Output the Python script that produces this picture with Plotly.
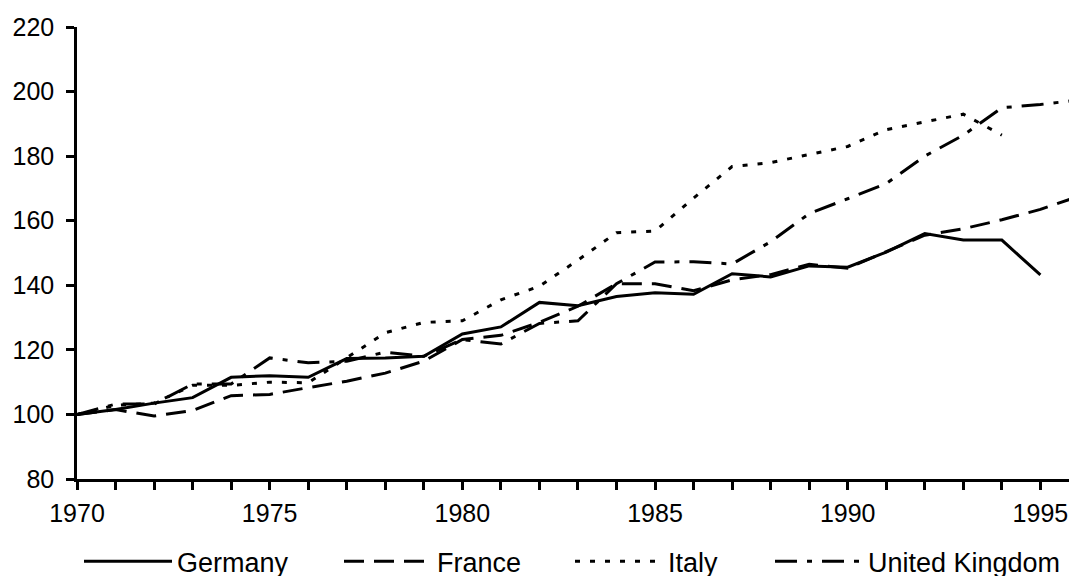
import plotly.graph_objects as go

years = list(range(1970, 1997))

germany = [100, 101.5, 103.5, 105.2, 111.5, 112, 111.5, 117.3, 117.5, 118,
           124.9, 127.1, 134.7, 133.7, 136.5, 137.7, 137.2, 143.6, 142.6, 146,
           145.6, 150.3, 156, 154, 154, 143.2]
france = [100, 101.5, 99.5, 101.2, 105.8, 106.2, 108.3, 110.3, 112.8, 116.5,
          123.2, 124.5, 128.5, 133.5, 140.5, 140.5, 138.3, 141.7, 143.3, 146.5,
          145.3, 150.3, 155.5, 157.5, 160.3, 163.5, 167.6]
italy = [100, 102.8, 103.5, 109, 109, 110, 109.8, 117.5, 125.3, 128.5,
         129, 135.5, 139.7, 147.8, 156.3, 156.8, 167, 176.8, 178, 180.5,
         183, 188.2, 190.5, 193, 186.5]
uk = [100, 103.2, 103.2, 109.4, 109.4, 117.5, 116, 116.5, 119.3, 118,
      123.2, 121.8, 128.2, 129, 140.5, 147.2, 147.3, 146.6, 153.5, 162.2,
      166.8, 171.5, 180, 186.5, 195, 196, 197.4]

names = ["Germany", "France", "Italy", "United Kingdom"]
values = [germany, france, italy, uk]
dashes = ["solid", "20px,10px", "5px,10px", "22px,10px,5px,10px"]
legend_ids = ["legend", "legend2", "legend3", "legend4"]
legend_x = [0.002, 0.262, 0.493, 0.693]

FONT = "Liberation Sans, Arial, sans-serif"

fig = go.Figure()
for name, vals, dash, lid in zip(names, values, dashes, legend_ids):
    fig.add_trace(go.Scatter(
        x=years[:len(vals)], y=vals, name=name, mode="lines",
        line=dict(color="black", width=3, dash=dash),
        legend=lid,
    ))

legend_common = dict(orientation="h", xanchor="left", y=-0.183, yanchor="middle",
                     itemwidth=88, font=dict(family=FONT, size=27, color="black"),
                     bgcolor="rgba(0,0,0,0)", borderwidth=0)

layout_legends = {}
for lid, lx in zip(legend_ids, legend_x):
    layout_legends[lid] = dict(legend_common, x=lx)

# page body has an 8px margin: the figure is drawn 8px right/down of the window corner
fig.update_layout(
    width=1069, height=600,
    margin=dict(l=69, r=0, t=19, b=128.7),
    paper_bgcolor="white", plot_bgcolor="white",
    font=dict(family=FONT, size=25, color="black"),
    showlegend=True,
    xaxis=dict(range=[1970, 1995.95], tick0=1970, dtick=5, automargin=False,
               ticks="outside", ticklen=8, tickwidth=2.5, tickcolor="black",
               showline=True, linecolor="black", linewidth=2.5,
               showgrid=False, zeroline=False, ticklabelstandoff=2,
               minor=dict(dtick=1, tick0=1970, ticks="outside", ticklen=8,
                          tickwidth=2.5, tickcolor="black", showgrid=False)),
    yaxis=dict(range=[80, 220], tick0=80, dtick=20, automargin=False,
               ticks="outside", ticklen=8, tickwidth=2.5, tickcolor="black",
               showline=True, linecolor="black", linewidth=2.5,
               showgrid=False, zeroline=False, ticklabelstandoff=7),
    **layout_legends,
)

fig.write_html("out.html")
